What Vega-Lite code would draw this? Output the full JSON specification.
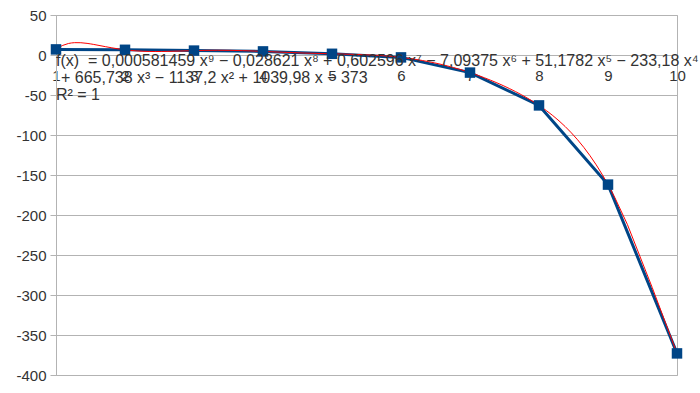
{
  "$schema": "https://vega.github.io/schema/vega-lite/v6.json",
  "width": 621,
  "height": 360,
  "autosize": "none",
  "padding": {"left": 56, "top": 15, "right": 23, "bottom": 18},
  "background": "white",
  "config": {
    "font": "Liberation Sans",
    "view": {"stroke": "#b3b3b3", "strokeWidth": 1},
    "axis": {"labelFont": "Liberation Sans", "labelFontSize": 15, "labelColor": "#333333", "title": null}
  },
  "datasets": {
    "series": [
      {"x": 1, "y": 7},
      {"x": 2, "y": 6.5},
      {"x": 3, "y": 5.5},
      {"x": 4, "y": 4.5},
      {"x": 5, "y": 1.5},
      {"x": 6, "y": -3},
      {"x": 7, "y": -22},
      {"x": 8, "y": -63},
      {"x": 9, "y": -162},
      {"x": 10, "y": -373}
    ]
  },
  "layer": [
    {
      "data": {"name": "series"},
      "mark": {"type": "line", "color": "#004586", "strokeWidth": 3},
      "encoding": {
        "x": {"field": "x", "type": "quantitative", "scale": {"domain": [1, 10], "nice": false, "zero": false},
          "axis": {"offset": -320, "domain": false, "ticks": false, "labelPadding": 13, "grid": false, "values": [1,2,3,4,5,6,7,8,9,10], "format": "d", "labelFlush": false, "labelOverlap": false}},
        "y": {"field": "y", "type": "quantitative", "scale": {"domain": [-400, 50], "nice": false, "zero": false},
          "axis": {"values": [-400,-350,-300,-250,-200,-150,-100,-50,0,50], "labelExpr": "datum.value + ''", "labelOverlap": false, "domainColor": "#b3b3b3", "gridColor": "#b3b3b3", "tickColor": "#b3b3b3", "tickSize": 6, "labelPadding": 4, "grid": true}}
      }
    },
    {
      "data": {"name": "series"},
      "transform": [{"regression": "y", "on": "x", "method": "poly", "order": 9}],
      "mark": {"type": "line", "color": "#ff0000", "strokeWidth": 1},
      "encoding": {
        "x": {"field": "x", "type": "quantitative",
          "axis": {"offset": -320, "domain": false, "ticks": false, "labelPadding": 13, "grid": false, "values": [1,2,3,4,5,6,7,8,9,10], "format": "d", "labelFlush": false, "labelOverlap": false}},
        "y": {"field": "y", "type": "quantitative",
          "axis": {"values": [-400,-350,-300,-250,-200,-150,-100,-50,0,50], "labelExpr": "datum.value + ''", "labelOverlap": false, "domainColor": "#b3b3b3", "gridColor": "#b3b3b3", "tickColor": "#b3b3b3", "tickSize": 6, "labelPadding": 4, "grid": true}}
      }
    },
    {
      "data": {"name": "series"},
      "mark": {"type": "point", "shape": "square", "filled": true, "color": "#004586", "size": 110, "opacity": 1},
      "encoding": {
        "x": {"field": "x", "type": "quantitative",
          "axis": {"offset": -320, "domain": false, "ticks": false, "labelPadding": 13, "grid": false, "values": [1,2,3,4,5,6,7,8,9,10], "format": "d", "labelFlush": false, "labelOverlap": false}},
        "y": {"field": "y", "type": "quantitative",
          "axis": {"values": [-400,-350,-300,-250,-200,-150,-100,-50,0,50], "labelExpr": "datum.value + ''", "labelOverlap": false, "domainColor": "#b3b3b3", "gridColor": "#b3b3b3", "tickColor": "#b3b3b3", "tickSize": 6, "labelPadding": 4, "grid": true}}
      }
    },
    {
      "data": {"values": [{"label": "f(x) \u00a0= 0,000581459 x⁹ − 0,028621 x⁸ + 0,602596 x⁷ − 7,09375 x⁶ + 51,1782 x⁵ − 233,18 x⁴"}]},
      "mark": {"type": "text", "align": "left", "baseline": "alphabetic", "fontSize": 16, "color": "#333333"},
      "encoding": {
        "x": {"datum": 1, "type": "quantitative",
          "axis": {"offset": -320, "domain": false, "ticks": false, "labelPadding": 13, "grid": false, "values": [1,2,3,4,5,6,7,8,9,10], "format": "d", "labelFlush": false, "labelOverlap": false}},
        "y": {"datum": -13.75, "type": "quantitative",
          "axis": {"values": [-400,-350,-300,-250,-200,-150,-100,-50,0,50], "labelExpr": "datum.value + ''", "labelOverlap": false, "domainColor": "#b3b3b3", "gridColor": "#b3b3b3", "tickColor": "#b3b3b3", "tickSize": 6, "labelPadding": 4, "grid": true}},
        "text": {"field": "label"}
      }
    },
    {
      "data": {"values": [{"label": "+ 665,738 x³ − 1137,2 x² + 1039,98 x − 373"}]},
      "mark": {"type": "text", "align": "left", "baseline": "alphabetic", "fontSize": 16, "color": "#333333", "dx": 5},
      "encoding": {
        "x": {"datum": 1, "type": "quantitative",
          "axis": {"offset": -320, "domain": false, "ticks": false, "labelPadding": 13, "grid": false, "values": [1,2,3,4,5,6,7,8,9,10], "format": "d", "labelFlush": false, "labelOverlap": false}},
        "y": {"datum": -35, "type": "quantitative",
          "axis": {"values": [-400,-350,-300,-250,-200,-150,-100,-50,0,50], "labelExpr": "datum.value + ''", "labelOverlap": false, "domainColor": "#b3b3b3", "gridColor": "#b3b3b3", "tickColor": "#b3b3b3", "tickSize": 6, "labelPadding": 4, "grid": true}},
        "text": {"field": "label"}
      }
    },
    {
      "data": {"values": [{"label": "R² = 1"}]},
      "mark": {"type": "text", "align": "left", "baseline": "alphabetic", "fontSize": 16, "color": "#333333"},
      "encoding": {
        "x": {"datum": 1, "type": "quantitative",
          "axis": {"offset": -320, "domain": false, "ticks": false, "labelPadding": 13, "grid": false, "values": [1,2,3,4,5,6,7,8,9,10], "format": "d", "labelFlush": false, "labelOverlap": false}},
        "y": {"datum": -56.25, "type": "quantitative",
          "axis": {"values": [-400,-350,-300,-250,-200,-150,-100,-50,0,50], "labelExpr": "datum.value + ''", "labelOverlap": false, "domainColor": "#b3b3b3", "gridColor": "#b3b3b3", "tickColor": "#b3b3b3", "tickSize": 6, "labelPadding": 4, "grid": true}},
        "text": {"field": "label"}
      }
    }
  ]
}
